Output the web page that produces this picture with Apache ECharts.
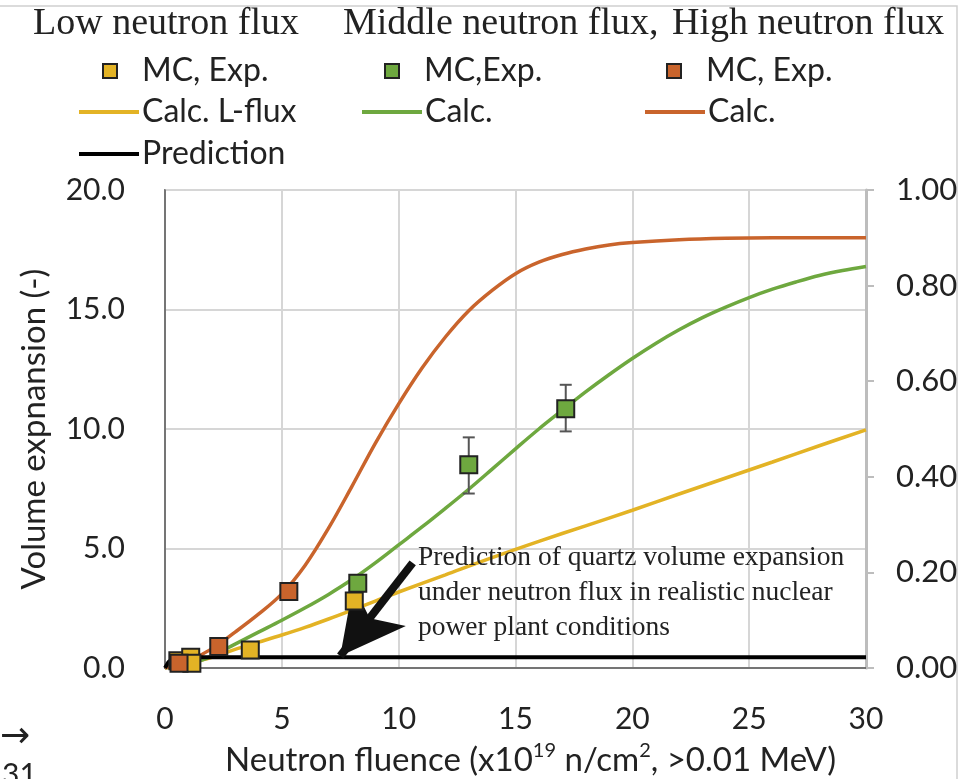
<!DOCTYPE html>
<html>
<head>
<meta charset="utf-8">
<script src="https://cdn.jsdelivr.net/npm/echarts@6/dist/echarts.min.js"></script>
<style>
  html, body { margin: 0; padding: 0; background: #fff; }
  #chart { width: 974px; height: 779px; }
</style>
</head>
<body>
<div id="chart"></div>
<script>
// x ticks and right-axis ticks
const xTicks = [0, 5, 10, 15, 20, 25, 30]
const rightTicks = [0, 0.2, 0.4, 0.6, 0.8, 1.0]

// measured points (MC, Exp.)
const lowExp = [[0.55, 0.3], [1.1, 0.45], [1.15, 0.2], [3.65, 0.75], [8.1, 2.8]]
const midExp = [[8.25, 3.55], [13.0, 8.5], [17.15, 10.85]]
const highExp = [[0.6, 0.2], [2.3, 0.9], [5.3, 3.2]]
// error bars [x, low, high]
const midErr = [[13.0, 7.3, 9.65], [17.15, 9.9, 11.85]]

// calculated curves
const lowCalc = [[0, 0], [1, 0.2], [2, 0.45], [3, 0.78], [4, 1.08], [5, 1.38], [6, 1.7], [7, 2.05],
  [8, 2.42], [9, 2.8], [10, 3.18], [12, 3.9], [14, 4.62], [16, 5.3], [18, 5.95], [20, 6.6],
  [22, 7.28], [24, 7.95], [26, 8.62], [28, 9.3], [30, 9.96]]
const midCalc = [[0, 0], [1, 0.15], [2, 0.5], [3, 1.0], [4, 1.5], [5, 2.0], [6, 2.52], [7, 3.08],
  [8, 3.7], [9, 4.4], [10, 5.15], [11, 5.9], [12, 6.68], [13, 7.48], [14, 8.32], [15, 9.17],
  [16, 10.0], [17, 10.78], [18, 11.55], [19, 12.27], [20, 12.95], [21, 13.58], [22, 14.15],
  [23, 14.66], [24, 15.1], [25, 15.5], [26, 15.85], [27, 16.15], [28, 16.42], [29, 16.63], [30, 16.8]]
const highCalc = [[0, 0], [1, 0.3], [2, 0.8], [3, 1.5], [4, 2.25], [5, 3.1], [6, 4.3], [7, 5.85],
  [8, 7.6], [9, 9.4], [10, 11.05], [11, 12.55], [12, 13.85], [13, 14.95], [14, 15.8], [15, 16.5],
  [16, 16.98], [17, 17.3], [18, 17.53], [19, 17.7], [20, 17.8], [22, 17.92], [24, 17.98],
  [26, 18.0], [30, 18.0]]
const prediction = [[0, 0], [0.15, 0.25], [0.35, 0.4], [0.6, 0.45], [30, 0.45]]

// arrow of the annotation, data coords
const arrowFrom = [10.6, 4.4]
const arrowTo = [7.5, 0.5]

const labels = {
  lowMC: 'MC, Exp.', midMC: 'MC,Exp.', highMC: 'MC, Exp.',
  lowCalc: 'Calc. L-flux', midCalc: 'Calc.', highCalc: 'Calc.',
  pred: 'Prediction'
}

const YELLOW = '#E3B325'
const GREEN = '#6EA83F'
const ORANGE = '#C9642C'
const SANS = 'Lato'

const chart = echarts.init(document.getElementById('chart'))

function scatter(name, data, color) {
  return {
    name: name, type: 'scatter', data: data, symbol: 'rect', symbolSize: 17, z: 5,
    itemStyle: { color: color, borderColor: '#222', borderWidth: 2, opacity: 1 }
  }
}
function curve(name, data, color, width) {
  return {
    name: name, type: 'line', data: data, smooth: 0.35, symbol: 'none', z: 3,
    lineStyle: { color: color, width: width || 3.5 }, itemStyle: { color: color }
  }
}

const legendText = { fontFamily: SANS, fontSize: 32, color: '#222', lineHeight: 34 }

const option = {
  animation: false,
  backgroundColor: '#fff',
  grid: {
    left: 165, right: 108, top: 190, bottom: 111, outerBoundsMode: 'none',
    show: true, borderColor: '#555', borderWidth: 1.5
  },
  legend: [
    {
      data: [{ name: 'lowMC', icon: 'rect' }, { name: 'midMC', icon: 'rect' }, { name: 'highMC', icon: 'rect' }],
      left: 97, top: 49, itemWidth: 14, itemHeight: 14, itemGap: 42,
      itemStyle: { borderColor: '#222', borderWidth: 2 },
      formatter: n => labels[n],
      textStyle: Object.assign({ width: 200, padding: [0, 0, 0, 20] }, legendText),
      selectedMode: false
    },
    {
      data: [{ name: 'lowCalc', icon: 'rect' }, { name: 'midCalc', icon: 'rect' }, { name: 'highCalc', icon: 'rect' }],
      left: 74, top: 90, itemWidth: 60, itemHeight: 4, itemGap: 20,
      formatter: n => labels[n],
      textStyle: Object.assign({ width: 200, padding: [0, 0, 0, -2] }, legendText),
      selectedMode: false
    },
    {
      data: [{ name: 'pred', icon: 'rect' }],
      left: 74, top: 132, itemWidth: 60, itemHeight: 4,
      formatter: n => labels[n],
      textStyle: Object.assign({ padding: [0, 0, 0, -2] }, legendText),
      selectedMode: false
    }
  ],
  xAxis: {
    type: 'value', min: xTicks[0], max: xTicks[xTicks.length - 1], interval: 5,
    name: 'Neutron fluence (x10{sup|19} n/cm{sup|2}, >0.01 MeV)',
    nameLocation: 'middle', nameGap: 73,
    nameTextStyle: {
      fontFamily: SANS, fontSize: 33, color: '#222', padding: [0, 0, 0, 30],
      rich: { sup: { fontFamily: SANS, fontSize: 20, color: '#222', padding: [0, 0, 18, 0] } }
    },
    axisLine: { show: true, lineStyle: { color: '#555', width: 1.5 } },
    axisTick: { show: false },
    axisLabel: { fontFamily: SANS, fontSize: 30, color: '#222', margin: 36 },
    splitLine: { show: true, lineStyle: { color: '#d6d6d6', width: 2 } }
  },
  yAxis: [
    {
      type: 'value', min: 0, max: 20, interval: 5,
      name: 'Volume expnansion (-)', nameLocation: 'middle', nameGap: 114,
      nameTextStyle: { fontFamily: SANS, fontSize: 33, color: '#222' },
      axisLine: { show: true, lineStyle: { color: '#555', width: 1.5 } },
      axisTick: { show: false },
      axisLabel: { fontFamily: SANS, fontSize: 30, color: '#222', margin: 40, formatter: v => v.toFixed(1) },
      splitLine: { show: true, lineStyle: { color: '#d6d6d6', width: 2 } }
    },
    {
      type: 'value', min: rightTicks[0], max: rightTicks[rightTicks.length - 1], interval: 0.2,
      position: 'right',
      axisLine: { show: true, lineStyle: { color: '#bdbdbd', width: 3 } },
      axisTick: { show: true, length: 8, lineStyle: { color: '#bdbdbd', width: 2 } },
      axisLabel: { fontFamily: SANS, fontSize: 31, color: '#222', margin: 30, formatter: v => v.toFixed(2) },
      splitLine: { show: false }
    }
  ],
  graphic: [
    { type: 'polyline', shape: { points: [[0, 6], [957, 6], [957, 779]] }, style: { stroke: '#cfcfcf', lineWidth: 1.5, fill: null } },
    { type: 'text', left: 33, top: 5, style: { text: 'Low neutron flux', font: '38px "Liberation Serif"', fill: '#222' } },
    { type: 'text', left: 343, top: 5, style: { text: 'Middle neutron flux,', font: '38px "Liberation Serif"', fill: '#222' } },
    { type: 'text', left: 672, top: 5, style: { text: 'High neutron flux', font: '38px "Liberation Serif"', fill: '#222' } },
    {
      type: 'text', left: 418, top: 540, z: 10,
      style: {
        text: 'Prediction of quartz volume expansion\nunder neutron flux in realistic nuclear\npower plant conditions',
        font: '27.5px "Liberation Serif"', lineHeight: 35, fill: '#222'
      }
    },
    { type: 'text', left: 0, top: 720, style: { text: '→', font: '36px "DejaVu Sans"', fill: '#222' } },
    { type: 'text', left: 2, top: 760, style: { text: '31', font: '30px Lato', fill: '#222' } }
  ],
  series: [
    curve('lowCalc', lowCalc, YELLOW),
    curve('midCalc', midCalc, GREEN),
    curve('highCalc', highCalc, ORANGE),
    {
      name: 'pred', type: 'line', data: prediction, symbol: 'none', z: 4,
      lineStyle: { color: '#000', width: 4 }, itemStyle: { color: '#000' },
      markLine: {
        silent: true, symbol: ['none', 'arrow'], symbolSize: [50, 64],
        label: { show: false },
        lineStyle: { color: '#111', width: 8, type: 'solid' },
        data: [[{ coord: arrowFrom }, { coord: arrowTo }]]
      }
    },
    {
      type: 'custom', name: 'err', z: 4,
      data: midErr,
      encode: { x: 0, y: [1, 2] },
      renderItem: function (params, api) {
        const x = api.value(0)
        const lo = api.coord([x, api.value(1)])
        const hi = api.coord([x, api.value(2)])
        const st = { stroke: '#555', lineWidth: 2 }
        return {
          type: 'group',
          children: [
            { type: 'line', shape: { x1: lo[0], y1: lo[1], x2: hi[0], y2: hi[1] }, style: st },
            { type: 'line', shape: { x1: lo[0] - 6, y1: lo[1], x2: lo[0] + 6, y2: lo[1] }, style: st },
            { type: 'line', shape: { x1: hi[0] - 6, y1: hi[1], x2: hi[0] + 6, y2: hi[1] }, style: st }
          ]
        }
      }
    },
    scatter('lowMC', lowExp, YELLOW),
    scatter('midMC', midExp, GREEN),
    scatter('highMC', highExp, ORANGE)
  ]
}

chart.setOption(option)
</script>
</body>
</html>
